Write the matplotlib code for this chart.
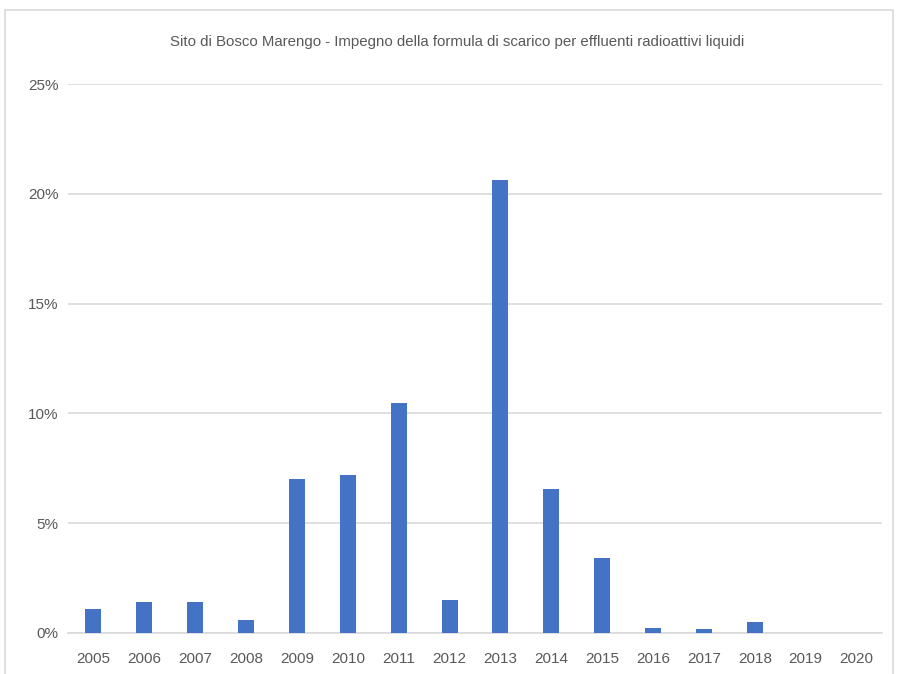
import matplotlib
matplotlib.use('Agg')
import matplotlib.pyplot as plt
from matplotlib.patches import Rectangle
from matplotlib.ticker import PercentFormatter
import numpy as np

# dati
anni = ['2005', '2006', '2007', '2008', '2009', '2010', '2011', '2012',
        '2013', '2014', '2015', '2016', '2017', '2018', '2019', '2020']
impegno = [0.0109, 0.0143, 0.0141, 0.0057, 0.0701, 0.0719, 0.1046, 0.0152,
           0.2064, 0.0657, 0.0343, 0.0024, 0.0018, 0.0050, 0.0, 0.0]
titolo = 'Sito di Bosco Marengo - Impegno della formula di scarico per effluenti radioattivi liquidi'

plt.rcParams['font.family'] = ['Liberation Sans Narrow', 'Liberation Sans', 'DejaVu Sans']
grigio_testo = '#595959'
grigio_linee = '#d9d9d9'

W, H = 897, 674
fig = plt.figure(figsize=(W / 100, H / 100), dpi=100)

# cornice del grafico
fig.patches.append(Rectangle((5 / W, -0.05), 888 / W, 1.05 - 10 / H,
                             transform=fig.transFigure, fill=False,
                             edgecolor=grigio_linee, linewidth=1.2))

ax = fig.add_axes([68 / W, 1 - 633 / H, (882 - 68) / W, (633 - 84) / H])
x = np.arange(len(anni))
ax.bar(x, impegno, width=0.315, color='#4472c4', zorder=3)

ax.set_xlim(-0.5, len(anni) - 0.5)
ax.set_ylim(0, 0.25)
ax.set_yticks(np.arange(0, 0.2501, 0.05))
ax.yaxis.set_major_formatter(PercentFormatter(1.0, decimals=0))
ax.set_xticks(x)
ax.set_xticklabels(anni)
ax.grid(axis='y', color=grigio_linee, linewidth=1.2, zorder=0)
for s in ['top', 'right', 'left']:
    ax.spines[s].set_visible(False)
ax.spines['bottom'].set_color(grigio_linee)
ax.spines['bottom'].set_linewidth(1.2)
ax.tick_params(axis='both', length=0, colors=grigio_testo, labelsize=11)
ax.tick_params(axis='x', pad=14)
ax.tick_params(axis='y', pad=7)

fig.text(457 / W, 1 - 42 / H, titolo, ha='center', va='center',
         fontsize=10.8, color=grigio_testo)

fig.savefig('out.png', dpi=100)
